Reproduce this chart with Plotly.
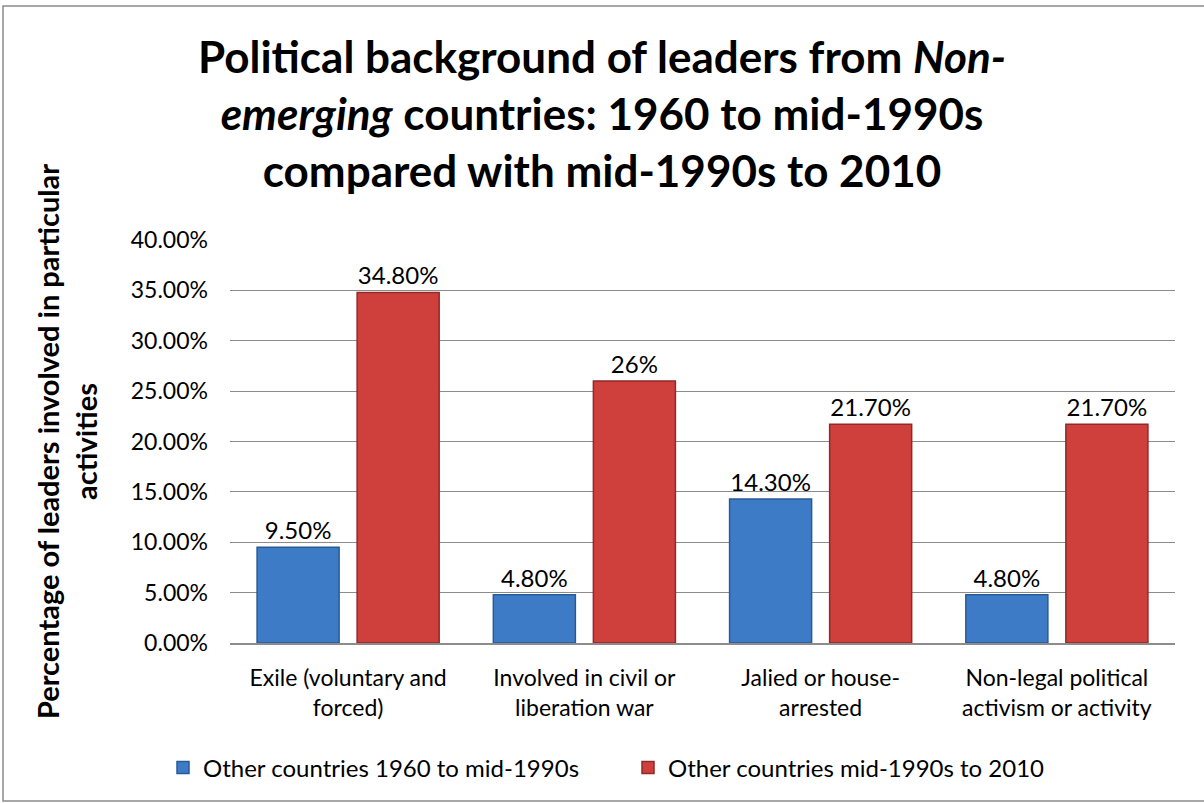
import plotly.graph_objects as go

categories = ["Exile (voluntary and<br>forced)", "Involved in civil or<br>liberation war",
              "Jalied or house-<br>arrested", "Non-legal political<br>activism or activity"]
series_names = ["Other countries 1960 to mid-1990s", "Other countries mid-1990s to 2010"]
early_values = [0.095, 0.048, 0.143, 0.048]
late_values = [0.348, 0.26, 0.217, 0.217]
early_labels = ["9.50%", "4.80%", "14.30%", "4.80%"]
late_labels = ["34.80%", "26%", "21.70%", "21.70%"]
tick_vals = [0, 0.05, 0.10, 0.15, 0.20, 0.25, 0.30, 0.35, 0.40]
tick_text = ["0.00%", "5.00%", "10.00%", "15.00%", "20.00%", "25.00%", "30.00%", "35.00%", "40.00%"]

FONT = "Lato"
W, H = 1204, 803
L, R, T, B = 230, 29, 240, 155

fig = go.Figure()
fig.add_trace(go.Bar(
    x=categories, y=early_values, name=series_names[0],
    text=early_labels, textposition="outside", cliponaxis=False,
    textfont=dict(size=24, color="#000000", family=FONT),
    marker=dict(color="#3E7BC7", line=dict(color="#2A5A96", width=1.5)),
))
fig.add_trace(go.Bar(
    x=categories, y=late_values, name=series_names[1],
    text=late_labels, textposition="outside", cliponaxis=False,
    textfont=dict(size=24, color="#000000", family=FONT),
    marker=dict(color="#CF3F3C", line=dict(color="#8E2A28", width=1.5)),
))

pw = W - L - R
ph = H - T - B
fig.add_shape(type="rect", xref="paper", yref="paper",
              x0=(3 - L) / pw, x1=(W + 5 - L) / pw,
              y0=-(H + 5 - T - ph) / ph, y1=1 + (T - 3) / ph,
              line=dict(color="#8C8C8C", width=1.5), layer="below")

fig.update_layout(
    width=W, height=H,
    margin=dict(l=L, r=R, t=T, b=B),
    paper_bgcolor="white", plot_bgcolor="white",
    font=dict(family=FONT, size=22, color="#000000"),
    title=dict(
        text="<b>Political background of leaders from <i>Non-</i><br><i>emerging</i> countries: 1960 to mid-1990s<br>compared with mid-1990s to 2010</b>",
        x=0.5, xanchor="center", yref="container", y=0.909, yanchor="middle",
        font=dict(size=44, family=FONT, color="#000000"),
    ),
    barmode="group", bargap=0.153, bargroupgap=0.18,
    showlegend=True,
    legend=dict(orientation="h", x=(163 - L) / pw, xanchor="left", y=-0.31, yanchor="middle",
                font=dict(size=24, family=FONT), entrywidth=420, traceorder="normal",
                itemwidth=30),
    xaxis=dict(showline=True, linecolor="#8C8C8C", linewidth=1.5, ticks="",
               ticklabelstandoff=14,
               tickfont=dict(size=23, family=FONT), showgrid=False),
    yaxis=dict(range=[0, 0.40], tickvals=tick_vals, ticktext=tick_text,
               showgrid=True, gridcolor="#8C8C8C", gridwidth=1,
               ticks="", ticklabelstandoff=21,
               zeroline=False, showline=False,
               tickfont=dict(size=23, family=FONT),
               title=dict(text="<b>Percentage of leaders involved in particular<br>activities</b>",
                          font=dict(size=29, family=FONT), standoff=24)),
)

fig.write_html("out.html")
